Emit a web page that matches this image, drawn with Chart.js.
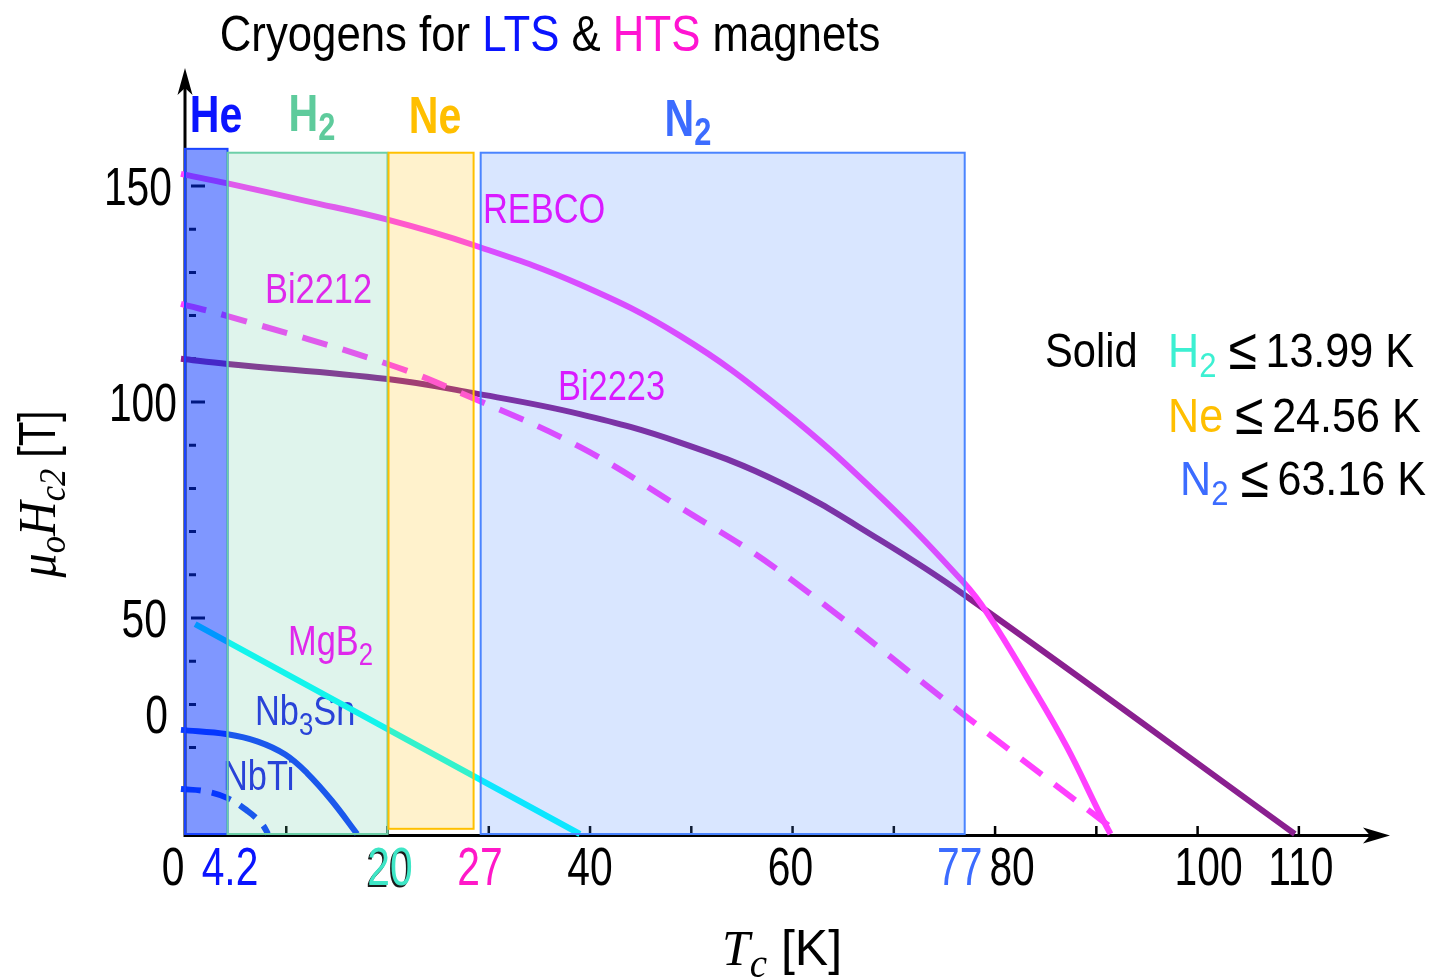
<!DOCTYPE html>
<html>
<head>
<meta charset="utf-8">
<title>Cryogens for LTS &amp; HTS magnets</title>
<script src="https://cdn.jsdelivr.net/npm/chart.js@4.4.1/dist/chart.umd.min.js"></script>
<style>
  html, body { margin: 0; padding: 0; background: #ffffff; }
  canvas { display: block; }
</style>
</head>
<body>
<canvas id="hc2" width="1438" height="977"></canvas>
<script>
// Upper critical field (T) versus temperature (K) for magnet conductors
const rebcoT  = [-0.4, 4.2, 12, 20, 28.4, 39, 48.9, 58.8, 68.7, 76.9, 79.2, 83.7, 87.1, 90.3, 91.4];
const rebcoH  = [152.8, 150.6, 146.5, 142.2, 136.4, 127.2, 115.3, 98.6, 78.0, 58.2, 51.2, 34.0, 20.1, 4.9, 0];

const bi2212T = [-0.4, 4.2, 20, 28.4, 39, 48.9, 58.7, 76.7, 92.3];
const bi2212H = [122.7, 119.9, 108.8, 100.9, 89.6, 75.6, 60.9, 28.0, 0];

const bi2223T = [-0.4, 4.2, 20, 28.4, 39, 48.9, 58.8, 68.6, 76.8, 109.6];
const bi2223H = [110.0, 108.8, 105.3, 102.1, 97.2, 90.6, 81.3, 68.1, 55.6, 0];

const mgb2T   = [1, 39];
const mgb2H   = [48.6, 0];

const nb3snT  = [-0.4, 4.2, 7.2, 9.9, 12.1, 14.5, 17];
const nb3snH  = [24.1, 23.1, 21.4, 18.4, 14.0, 7.7, 0];

const nbtiT   = [-0.4, 2, 4.2, 6.2, 7.6, 8.2];
const nbtiH   = [10.4, 9.9, 8.3, 5.3, 2.3, 0];

// Cryogen operating windows (temperature span, field span)
const cryogenNames = ['He', 'H2', 'Ne', 'N2'];
const cryogenFromK = [0, 4.2, 20.1, 29.2];
const cryogenToK   = [4.2, 20, 28.5, 77];
const cryogenTopT  = [158.6, 157.7, 157.7, 157.7];
const cryogenBaseT = [0, 0, 1.2, 0];

// Axis ticks and tick labels
const xTickValues   = [10, 20, 30, 40, 50, 60, 70, 80, 90, 100, 110];
const yTickValues   = [20, 30, 40, 50, 60, 70, 80, 90, 100, 110, 120, 130, 140, 150];
const yMajorValues  = [50, 100, 150];
const xLabelValues  = [0, 4.2, 20, 27, 40, 60, 77, 80, 100, 110];
const xLabelTexts   = ['0', '4.2', '20', '27', '40', '60', '77', '80', '100', '110'];
const yLabelValues  = [150, 100, 50, 30];
const yLabelTexts   = ['150', '100', '50', '0'];

// ---- drawing styles ----
const SANS  = "'Liberation Sans', Arial, Helvetica, sans-serif";
const SERIF = "'Liberation Serif', 'Times New Roman', serif";
const SYMBOL = "'Noto Sans', 'DejaVu Sans', sans-serif";

const xLabelStyle = {
  nudge:  [-12, 2.5, 2.5, 21.5, 0, -2, -5, 17, 11, 2],
  colors: ['#000', '#0a14ff', '#3ee6c6', '#ff18c8', '#000', '#000', '#3c6cff', '#000', '#000', '#000']
};
const yLabelStyle = { right: 172, nudgeX: [0, 5, -5, -4], nudgeY: [0, 0, 0, 10] };

const cryogenStyle = {
  fill:   ['rgba(0,48,255,0.5)', 'rgba(96,200,160,0.2)', 'rgba(255,192,0,0.2)', 'rgba(64,128,255,0.2)'],
  stroke: ['#1a44ff', '#6ccfa8', '#ffc000', '#4a84ff'],
  text:   ['#0a14ff', '#5ecb9c', '#ffbf00', '#3c6cff'],
  labelX: [216, 312, 435, 688],
  labelY: [132, 131, 133, 136]
};

const curveLabels = [
  { segs: [{ t: 'REBCO' }], x: 483, y: 223, color: '#ff00ff' },
  { segs: [{ t: 'Bi2212' }], x: 265, y: 303, color: '#ff00ff' },
  { segs: [{ t: 'Bi2223' }], x: 558, y: 400, color: '#ff00ff' },
  { segs: [{ t: 'MgB' }, { t: '2', sub: true }], x: 288, y: 655, color: '#ff00ff' },
  { segs: [{ t: 'Nb' }, { t: '3', sub: true }, { t: 'Sn' }], x: 255, y: 725, color: '#1c22e6' },
  { segs: [{ t: 'NbTi' }], x: 223, y: 790, color: '#1c22e6' }
];

// Draws a run of text segments (with optional subscripts) horizontally condensed by sx
function richText(ctx, x, y, segs, o) {
  const size = o.size;
  const fontFor = s => {
    const sz = (s.sub ? size * (o.subScale || 0.72) : size) * (s.grow || 1);
    return `${s.style || o.style || 'normal'} ${s.weight || o.weight || 'normal'} ${sz}px ${s.family || o.family || SANS}`;
  };
  ctx.save();
  let w = 0;
  for (const s of segs) { ctx.font = fontFor(s); w += ctx.measureText(s.t).width * (s.sx || 1); }
  const sx = o.sx || 1;
  const x0 = o.align === 'center' ? x - w * sx / 2 : o.align === 'right' ? x - w * sx : x;
  ctx.translate(x0, y);
  ctx.scale(sx, 1);
  ctx.textBaseline = 'alphabetic';
  ctx.textAlign = 'left';
  let cx = 0;
  for (const s of segs) {
    ctx.font = fontFor(s);
    ctx.fillStyle = s.color || o.color || '#000';
    const ssx = s.sx || 1;
    ctx.save();
    ctx.translate(cx, (s.sub ? size * (o.subDrop || 0.2) : 0) + (s.dy || 0));
    ctx.scale(ssx, 1);
    ctx.fillText(s.t, 0, 0);
    ctx.restore();
    cx += ctx.measureText(s.t).width * ssx;
  }
  ctx.restore();
}

const decor = {
  id: 'decor',
  beforeDatasetsDraw(chart) {
    const { ctx, chartArea: a, scales: { x, y } } = chart;
    ctx.save();
    ctx.strokeStyle = '#000';
    ctx.lineCap = 'butt';
    // axis lines
    ctx.lineWidth = 3;
    ctx.beginPath();
    ctx.moveTo(a.left, a.bottom + 3);
    ctx.lineTo(a.left, a.top + 16);
    ctx.moveTo(a.left - 1.5, a.bottom + 1.5);
    ctx.lineTo(a.right - 16, a.bottom + 1.5);
    ctx.stroke();
    // x tick marks
    ctx.lineWidth = 2.5;
    ctx.beginPath();
    for (const v of xTickValues) {
      const px = x.getPixelForValue(v);
      ctx.moveTo(px, a.bottom);
      ctx.lineTo(px, a.bottom - 8);
    }
    ctx.stroke();
    // y tick marks
    ctx.lineWidth = 3;
    ctx.beginPath();
    for (const v of yTickValues) {
      const py = y.getPixelForValue(v);
      if (yMajorValues.includes(v)) { ctx.moveTo(a.left + 6, py); ctx.lineTo(a.left + 20, py); }
      else { ctx.moveTo(a.left + 4, py); ctx.lineTo(a.left + 11, py); }
    }
    ctx.stroke();
    ctx.restore();
    // curve names
    for (const c of curveLabels) {
      richText(ctx, c.x, c.y, c.segs, { size: 43, sx: 0.8, color: c.color, subScale: 0.75, subDrop: 0.23 });
    }
  },
  afterDatasetsDraw(chart) {
    const { ctx, chartArea: a, scales: { x, y } } = chart;
    ctx.save();
    // cryogen windows, translucent over the curves
    cryogenNames.forEach((n, i) => {
      const x0 = x.getPixelForValue(cryogenFromK[i]);
      const x1 = x.getPixelForValue(cryogenToK[i]);
      const y0 = y.getPixelForValue(cryogenTopT[i]);
      const y1 = y.getPixelForValue(cryogenBaseT[i]);
      ctx.fillStyle = cryogenStyle.fill[i];
      ctx.fillRect(x0, y0, x1 - x0, y1 - y0);
      ctx.strokeStyle = cryogenStyle.stroke[i];
      ctx.lineWidth = 2;
      ctx.strokeRect(x0, y0, x1 - x0, y1 - y0);
    });
    // arrow heads
    ctx.fillStyle = '#000';
    const tx = a.right, ty = a.bottom + 1.5;
    ctx.beginPath();
    ctx.moveTo(tx, ty);
    ctx.lineTo(tx - 27, ty - 8);
    ctx.lineTo(tx - 20, ty);
    ctx.lineTo(tx - 27, ty + 8);
    ctx.closePath();
    ctx.fill();
    const ux = a.left, uy = a.top - 2;
    ctx.beginPath();
    ctx.moveTo(ux, uy);
    ctx.lineTo(ux - 7.5, uy + 27);
    ctx.lineTo(ux, uy + 20);
    ctx.lineTo(ux + 7.5, uy + 27);
    ctx.closePath();
    ctx.fill();
    ctx.restore();

    // x tick labels
    const tick = { size: 53, sx: 0.77, align: 'center' };
    xLabelValues.forEach((v, i) => {
      const px = x.getPixelForValue(v) + xLabelStyle.nudge[i];
      if (xLabelTexts[i] === '20') {
        richText(ctx, px - 1.5, 886.5, [{ t: '20' }], Object.assign({ color: '#1a1a1a' }, tick));
      }
      richText(ctx, px, 885, [{ t: xLabelTexts[i] }], Object.assign({ color: xLabelStyle.colors[i] }, tick));
    });
    // y tick labels
    yLabelValues.forEach((v, i) => {
      const py = y.getPixelForValue(v) + yLabelStyle.nudgeY[i] + 19;
      richText(ctx, yLabelStyle.right + yLabelStyle.nudgeX[i], py, [{ t: yLabelTexts[i] }],
        { size: 53, sx: 0.77, align: 'right', color: '#000' });
    });

    // cryogen names above the windows
    const cryoSegs = [
      [{ t: 'He' }],
      [{ t: 'H' }, { t: '2', sub: true }],
      [{ t: 'Ne' }],
      [{ t: 'N' }, { t: '2', sub: true }]
    ];
    cryoSegs.forEach((segs, i) => {
      richText(ctx, cryogenStyle.labelX[i], cryogenStyle.labelY[i], segs,
        { size: 52, sx: 0.79, weight: 'bold', align: 'center', color: cryogenStyle.text[i], subScale: 0.75, subDrop: 0.17 });
    });

    // title
    richText(ctx, 550, 51, [
      { t: 'Cryogens for ' },
      { t: 'LTS', color: '#0a14ff' },
      { t: ' & ' },
      { t: 'HTS', color: '#ff14d2' },
      { t: ' magnets' }
    ], { size: 50, sx: 0.875, align: 'center', color: '#000' });

    // solidification temperatures
    const note = { size: 49, sx: 0.88, color: '#000', subScale: 0.72, subDrop: 0.2 };
    const le = [{ t: ' ' }, { t: '\u2264', family: SYMBOL, weight: '300', grow: 1.2, dy: 2 }, { t: '\u2009' }];
    richText(ctx, 1045, 367, [{ t: 'Solid' }], Object.assign({}, note, { sx: 0.85 }));
    richText(ctx, 1168, 367, [
      { t: 'H', color: '#3cf0d2' }, { t: '2', sub: true, color: '#3cf0d2' }, ...le, { t: '13.99 K' }
    ], note);
    richText(ctx, 1168, 432, [{ t: 'Ne', color: '#ffbf00' }, ...le, { t: '24.56 K' }], note);
    richText(ctx, 1180, 495, [
      { t: 'N', color: '#3c6cff' }, { t: '2', sub: true, color: '#3c6cff' }, ...le, { t: '63.16 K' }
    ], note);

    // axis titles
    richText(ctx, 782, 965, [
      { t: 'T', family: SERIF, style: 'italic' },
      { t: 'c', family: SERIF, style: 'italic', sub: true },
      { t: ' [K]' }
    ], { size: 50, align: 'center', color: '#000', subScale: 0.78, subDrop: 0.24 });

    ctx.save();
    ctx.translate(55, 494);
    ctx.rotate(-Math.PI / 2);
    richText(ctx, 0, 0, [
      { t: '\u03bc', family: SERIF, style: 'italic', sx: 1.05 },
      { t: 'o', family: SERIF, style: 'italic', sub: true, sx: 1.05 },
      { t: 'H', family: SERIF, style: 'italic', sx: 1.05 },
      { t: 'c2', family: SERIF, style: 'italic', sub: true, sx: 1.05 },
      { t: ' [T]', sx: 0.88 }
    ], { size: 52, sx: 0.88, align: 'center', color: '#000', subScale: 0.72, subDrop: 0.2 });
    ctx.restore();
  }
};

const pts = (ts, hs) => ts.map((t, i) => ({ x: t, y: hs[i] }));
const lineDefaults = {
  showLine: true, pointRadius: 0, fill: false, clip: false,
  cubicInterpolationMode: 'default', tension: 0.4, borderJoinStyle: 'round'
};

new Chart(document.getElementById('hc2'), {
  type: 'scatter',
  data: {
    datasets: [
      { label: 'REBCO',  data: pts(rebcoT, rebcoH),   borderColor: '#ff40ff', borderWidth: 6 },
      { label: 'Bi2212', data: pts(bi2212T, bi2212H), borderColor: '#ff40ff', borderWidth: 6, borderDash: [26, 16] },
      { label: 'Bi2223', data: pts(bi2223T, bi2223H), borderColor: '#8a2090', borderWidth: 6 },
      { label: 'MgB2',   data: pts(mgb2T, mgb2H),     borderColor: '#00ffff', borderWidth: 6 },
      { label: 'Nb3Sn',  data: pts(nb3snT, nb3snH),   borderColor: '#0a3cff', borderWidth: 6 },
      { label: 'NbTi',   data: pts(nbtiT, nbtiH),     borderColor: '#0a3cff', borderWidth: 6, borderDash: [20, 11] }
    ].map(d => Object.assign({}, lineDefaults, d))
  },
  options: {
    responsive: false,
    animation: false,
    events: [],
    layout: { padding: { left: 185, right: 48, top: 70, bottom: 143 } },
    scales: {
      x: { type: 'linear', min: 0, max: 119, display: false },
      y: { type: 'linear', min: 0, max: 176.85, display: false }
    },
    plugins: { legend: { display: false }, tooltip: { enabled: false }, title: { display: false } }
  },
  plugins: [decor]
});
</script>
</body>
</html>
